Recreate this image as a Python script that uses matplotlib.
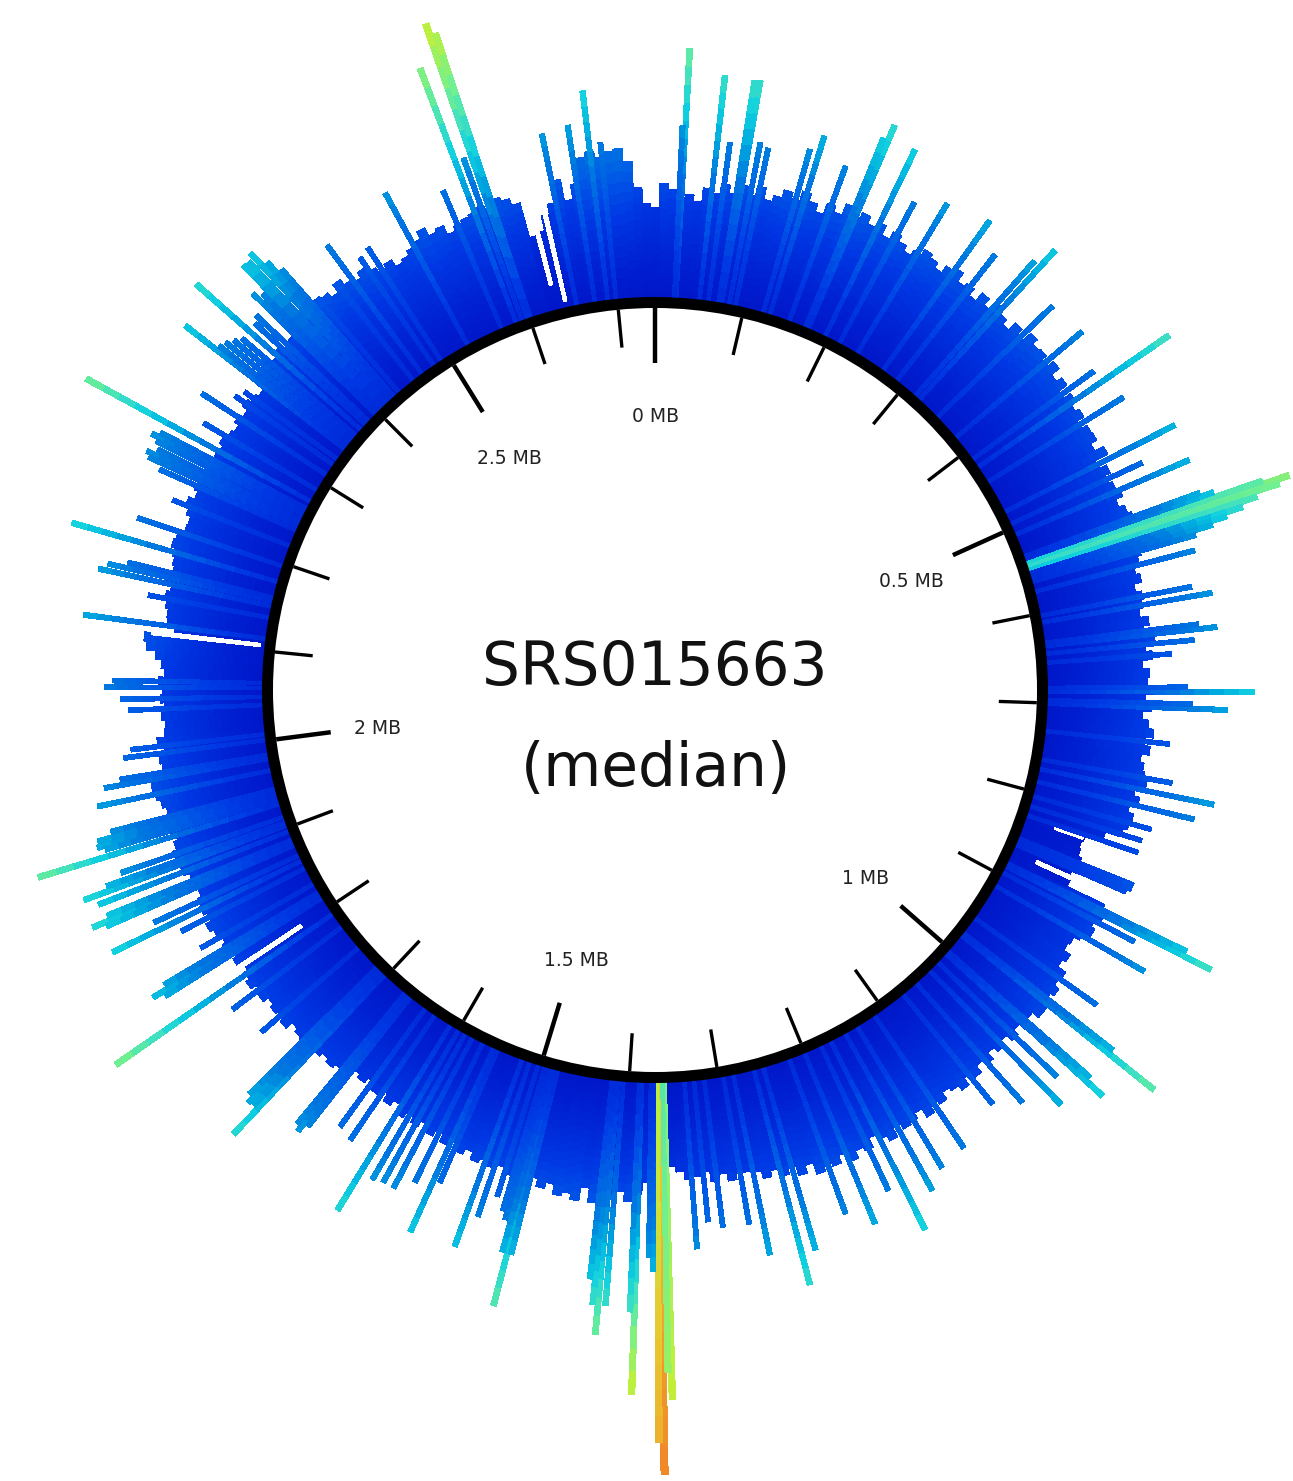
import numpy as np
import matplotlib
matplotlib.use("Agg")
import matplotlib.pyplot as plt
from matplotlib.colors import LinearSegmentedColormap

# --- DATA ---
SAMPLE_TITLE = "SRS015663"
SAMPLE_SUB = "(median)"
GENOME_MB = 2.742
TICK_MB = [i / 10 for i in range(28)]
LABEL_MB = {0.0: "0 MB", 0.5: "0.5 MB", 1.0: "1 MB", 1.5: "1.5 MB", 2.0: "2 MB", 2.5: "2.5 MB"}

# coverage per degree, clockwise from the 0 MB tick
BODY = [
    90, 114, 108, 100, 104, 98, 112, 108, 118, 110,
    120, 112, 122, 110, 116, 124, 118, 128, 120, 112,
    124, 118, 130, 122, 128, 120, 126, 116, 124, 118,
    112, 118, 124, 120, 114, 122, 126, 116, 120, 112,
    122, 114, 124, 118, 112, 122, 116, 126, 120, 122,
    116, 124, 114, 120, 110, 118, 112, 116, 108, 114,
    115, 108, 118, 104, 112, 106, 110, 114, 106, 112,
    116, 122, 124, 122, 112, 108, 102, 106, 98, 104,
    102, 98, 106, 100, 110, 100, 106, 96, 102, 100,
    108, 98, 104, 96, 102, 108, 100, 106, 98, 102,
    104, 108, 98, 104, 96, 102, 100, 96, 80, 62,
    60, 62, 66, 70, 62, 64, 106, 110, 104, 108,
    100, 94, 92, 100, 96, 106, 104, 110, 106, 112,
    112, 104, 110, 102, 108, 100, 106, 100, 108, 102,
    110, 104, 112, 106, 102, 110, 106, 114, 104, 110,
    112, 106, 116, 110, 104, 114, 110, 118, 108, 116,
    112, 118, 106, 114, 104, 110, 102, 108, 100, 98,
    98, 104, 96, 102, 92, 96, 98, 90, 84, 80,
    90, 100, 112, 120, 110, 118, 112, 124, 110, 124,
    118, 122, 112, 118, 110, 116, 110, 114, 108, 112,
    108, 112, 104, 110, 102, 108, 100, 106, 98, 104,
    98, 104, 94, 100, 92, 98, 90, 96, 92, 96,
    100, 104, 100, 104, 100, 106, 104, 100, 108, 104,
    106, 102, 108, 104, 110, 106, 102, 108, 104, 110,
    106, 110, 114, 108, 112, 110, 106, 112, 108, 114,
    110, 116, 112, 108, 114, 116, 110, 114, 118, 120,
    112, 106, 108, 102, 108, 100, 98, 102, 98, 102,
    100, 104, 98, 102, 108, 118, 121, 92, 100, 101,
    104, 106, 102, 108, 104, 106, 108, 112, 110, 104,
    103, 108, 112, 106, 110, 114, 108, 112, 106, 104,
    108, 104, 101, 106, 102, 108, 104, 101, 110, 116,
    118, 112, 116, 110, 114, 108, 112, 118, 114, 125,
    122, 116, 125, 118, 114, 120, 114, 108, 112, 104,
    107, 112, 116, 124, 115, 118, 108, 113, 116, 118,
    122, 118, 124, 120, 113, 77, 80, 95, 105, 127,
    105, 120, 145, 150, 143, 148, 150, 137, 110, 94,
]

# thin tall bars as (degrees, height)
SPIKES = [
    (319.3, 125), (322.0, 125), (323.6, 160), (325.7, 131), (327.0, 135), (331.5, 173), (337.0, 150), (339.3, 272),
    (340.2, 173), (341.0, 312), (341.5, 300), (348.5, 175), (351.2, 179), (353.1, 211), (354.3, 158),
    (2.8, 173), (3.1, 250), (6.5, 226), (7.8, 160), (9.3, 225), (9.8, 226), (10.9, 165), (11.8, 161),
    (16.0, 170), (17.0, 187), (20.0, 165), (22.5, 205), (23.0, 221), (25.7, 207), (28.0, 160), (31.0, 175),
    (35.5, 184), (38.0, 160), (41.5, 180), (42.3, 202), (46.0, 160), (50.0, 165), (54.0, 150), (55.4, 232),
    (58.0, 160), (63.0, 191), (65.0, 145), (66.7, 189),
    (70.1, 187), (70.5, 200), (71.0, 250), (71.3, 277), (71.7, 265), (72.2, 240), (72.7, 223), (73.1, 205),
    (73.5, 189), (74.0, 170), (75.5, 165), (79.1, 154), (80.1, 173), (83.1, 155), (83.6, 173), (84.7, 149),
    (86.0, 125), (89.7, 140), (90.2, 207), (91.5, 145), (92.0, 180), (96.0, 125), (100.2, 133), (101.6, 178),
    (103.5, 162), (105.7, 123), (107.2, 117), (108.6, 117), (112.2, 124), (112.7, 124), (113.2, 120),
    (116.2, 200), (116.7, 230), (117.7, 149), (119.9, 172), (125.5, 150), (128.2, 190), (128.7, 247),
    (131.7, 190), (132.2, 212), (133.9, 165), (135.6, 188), (138.3, 160), (140.8, 142), (146.0, 160),
    (149.0, 165), (151.0, 180), (153.4, 211), (155.0, 160), (157.6, 185), (160.0, 165), (164.0, 190),
    (165.4, 222), (168.5, 184), (170.0, 150), (172.8, 149), (174.3, 142), (175.7, 168),
    (178.6, 317), (178.9, 290), (179.3, 392), (179.7, 360), (180.2, 189), (180.6, 175), (181.9, 312),
    (182.3, 230), (184.6, 225), (185.3, 255), (185.8, 225), (186.3, 200),
    (194.3, 190), (194.7, 244), (195.2, 190), (195.8, 158), (196.3, 150), (197.3, 138), (198.6, 163),
    (199.8, 199), (203.6, 145), (204.3, 202), (206.0, 155), (207.7, 170), (208.9, 170), (210.0, 173),
    (211.4, 217), (214.1, 151), (215.8, 146), (218.5, 165), (219.0, 175), (219.5, 170), (223.5, 220),
    (224.0, 185), (224.6, 187), (225.1, 180), (229.0, 129), (232.9, 137), (235.2, 264), (238.0, 185),
    (238.5, 196), (239.0, 180), (240.4, 130), (243.0, 139), (244.2, 210), (245.1, 160),
    (246.7, 205), (247.1, 218), (247.6, 200), (248.9, 204), (249.8, 216), (250.3, 190), (251.1, 172),
    (253.1, 252), (253.8, 180), (254.2, 187), (254.8, 185), (255.4, 170), (258.2, 177), (259.9, 167),
    (260.5, 150), (262.7, 143), (263.5, 135), (267.8, 134), (269.0, 142), (270.3, 158), (271.0, 150),
    (277.5, 184), (280.6, 123), (282.3, 177), (283.0, 169), (283.6, 150), (286.0, 214), (288.4, 153),
    (291.5, 126), (294.0, 150), (294.7, 165), (295.2, 169), (295.8, 160), (296.5, 165), (297.0, 172),
    (297.5, 165), (298.7, 256), (300.6, 132), (303.2, 149), (305.0, 120), (306.0, 115), (307.8, 202),
    (308.3, 163), (309.0, 160), (309.7, 155), (310.4, 150), (311.5, 220), (312.5, 150), (313.2, 155),
    (314.6, 172), (315.3, 165), (315.9, 199), (316.5, 198), (317.2, 203), (317.8, 185), (318.4, 170),
]
# bars that keep their colour down to the ring
SOLID_SPIKES = [71.0, 71.3, 71.7, 72.2, 178.6, 178.9, 179.3, 179.7]

# white wedges as (degrees, start, height)
GAPS = [(276.5, 4, 110), (347.0, 6, 110), (345.6, 25, 60), (114.3, 25, 45), (236.3, 32, 85), (109.0, 30, 30)]

# --- LAYOUT (pixels of the 1293x1481 picture) ---
W, H = 1293, 1481
CX, CY = 655, 690
RMAX = 800
RING_IN, RING_OUT = 382, 393
N_SEG = 14

cmap = LinearSegmentedColormap.from_list("track", [
    (0.0, "#0010c4"), (40 / 400, "#0010c4"), (100 / 400, "#0038e4"), (130 / 400, "#0058e6"),
    (160 / 400, "#0078e0"), (185 / 400, "#00a8e0"), (210 / 400, "#10d0e0"), (235 / 400, "#40e0c0"),
    (265 / 400, "#70f090"), (315 / 400, "#c0f03c"), (345 / 400, "#e8c830"), (392 / 400, "#f08a28"),
    (1.0, "#f08a28"),
])


def draw_bars(ax, angles, heights, width, base_values, power):
    # one bar is a stack of short pieces, the colour runs from base value at the ring to height at the tip
    for k in range(N_SEG):
        s0, s1 = k / N_SEG, (k + 1) / N_SEG
        values = base_values + (heights - base_values) * s1 ** power
        ax.bar(np.radians(angles), heights * (s1 - s0) + 0.5, width=np.radians(width),
               bottom=RING_OUT - 1 + heights * s0, color=cmap(values / 400), linewidth=0, antialiased=False)


fig = plt.figure(figsize=(W / 100, H / 100), dpi=100)
ax = fig.add_axes([(CX - RMAX) / W, 1 - (CY + RMAX) / H, 2 * RMAX / W, 2 * RMAX / H], projection="polar")
ax.set_theta_zero_location("N")
ax.set_theta_direction(-1)
ax.set_rlim(0, RMAX)
ax.axis("off")

# body of the track
body = np.array(BODY, dtype=float)
draw_bars(ax, np.arange(360.0), body, 1.03, np.full(360, 50.0), 1.3)

# white wedges
gap_a, gap_s, gap_h = zip(*GAPS)
ax.bar(np.radians(gap_a), gap_h, width=np.radians(0.5), bottom=RING_OUT + np.array(gap_s), color="white",
       linewidth=0, antialiased=False)

# spikes, tallest first so the short ones stay visible
spike_a = np.array([a for a, h in SPIKES])
spike_h = np.array([h for a, h in SPIKES], dtype=float)
order = np.argsort(-spike_h)
spike_a, spike_h = spike_a[order], spike_h[order]
base = np.where(np.isin(spike_a, SOLID_SPIKES), spike_h * 0.85, 75.0)
draw_bars(ax, spike_a, spike_h, 0.52, base, 1.1)

# ring
ax.bar(0, RING_OUT - RING_IN, width=2 * np.pi, bottom=RING_IN, color="black", linewidth=0)

# ticks
for mb in TICK_MB:
    t = 2 * np.pi * mb / GENOME_MB
    major = mb in LABEL_MB
    ax.plot([t, t], [RING_IN, RING_IN - (55 if major else 38)], color="black",
            linewidth=3.2 if major else 2.4, solid_capstyle="butt")

LABEL_POS = {0.0: (656, 417), 0.5: (911, 582), 1.0: (866, 878), 1.5: (576, 961), 2.0: (378, 729), 2.5: (509, 459)}
for mb, text in LABEL_MB.items():
    x, y = LABEL_POS[mb]
    fig.text(x / W, 1 - y / H, text, fontsize=13.5, ha="center", va="center", color="#222222")

fig.text(655 / W, 1 - 668 / H, SAMPLE_TITLE, fontsize=43, ha="center", va="center", color="#111111")
fig.text(656 / W, 1 - 770 / H, SAMPLE_SUB, fontsize=43, ha="center", va="center", color="#111111")

fig.savefig("out.png", dpi=100)
